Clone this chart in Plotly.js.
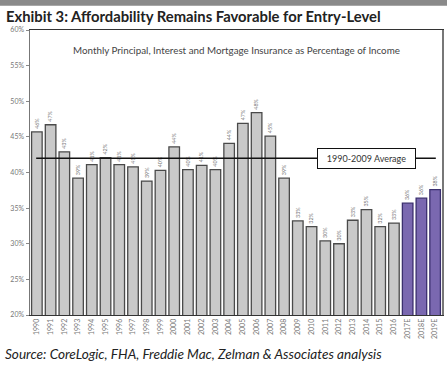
<!DOCTYPE html>
<html>
<head>
<meta charset="utf-8">
<script src="https://cdn.plot.ly/plotly-3.0.1.min.js"></script>
<style>html,body{margin:0;padding:0;background:#fff;}#chart{width:447px;height:367px;}</style>
</head>
<body>
<div id="chart"></div>
<script>
// Data
const years = ["1990","1991","1992","1993","1994","1995","1996","1997","1998","1999",
  "2000","2001","2002","2003","2004","2005","2006","2007","2008","2009",
  "2010","2011","2012","2013","2014","2015","2016","2017E","2018E","2019E"];
const pctOfIncome = [45.7,46.7,42.9,39.2,41.1,42.1,41.1,40.8,38.8,40.3,
  43.6,40.4,41.0,40.4,44.1,46.9,48.4,45.1,39.2,33.2,
  32.4,30.4,30.0,33.3,34.8,32.4,32.9,35.7,36.4,37.6];
const isEstimate = [false,false,false,false,false,false,false,false,false,false,
  false,false,false,false,false,false,false,false,false,false,
  false,false,false,false,false,false,false,true,true,true];
const avg1990to2009 = 42.0;
const avgLabel = "1990-2009 Average";
const yTicks = [20,25,30,35,40,45,50,55,60];

const fills = isEstimate.map(e => e ? "#7a68b0" : "#c9c9c9");
const outlines = isEstimate.map(e => e ? "#3b2f6e" : "#4a4a4a");

const trace = {
  type: "bar",
  x: years,
  y: pctOfIncome,
  marker: {color: fills, line: {color: outlines, width: 1.3}},
  text: pctOfIncome.map(v => Math.round(v) + "%"),
  textposition: "outside",
  textangle: -90,
  textfont: {family: "Lato, sans-serif", size: 7.5, color: "#777"},
  cliponaxis: false,
  hoverinfo: "none"
};

const layout = {
  width: 447, height: 367,
  margin: {l: 30, r: 5, t: 30, b: 52},
  paper_bgcolor: "#fff", plot_bgcolor: "#fff",
  showlegend: false,
  bargap: 0.23,
  font: {family: "Lato, sans-serif"},
  xaxis: {
    type: "category",
    range: [-0.5, years.length - 0.5],
    tickangle: -90,
    tickfont: {size: 7, color: "#777"},
    showline: true, linecolor: "#333", linewidth: 1, mirror: true,
    ticks: "", showgrid: false, zeroline: false
  },
  yaxis: {
    range: [20, 60],
    tickvals: yTicks,
    ticktext: yTicks.map(v => v + "%"),
    tickfont: {size: 7, color: "#777"},
    ticks: "outside", ticklen: 3, tickcolor: "#888",
    showline: true, linecolor: "#777", linewidth: 1.5, mirror: true,
    showgrid: false, zeroline: false
  },
  shapes: [
    {type: "rect", xref: "paper", yref: "paper", x0: -0.1, x1: 1.1, y0: 1.085, y1: 1.11,
     fillcolor: "#8a8a8a", line: {width: 0}},
    {type: "line", xref: "x", yref: "y", x0: -0.05, x1: 29.05,
     y0: avg1990to2009, y1: avg1990to2009, line: {color: "#111", width: 1.3}, layer: "above"}
  ],
  annotations: [
    {xref: "paper", yref: "paper", x: -0.063, y: 1.05, xanchor: "left", yanchor: "middle",
     text: "<b>Exhibit 3: Affordability Remains Favorable for Entry-Level</b>",
     showarrow: false, font: {size: 14.8, color: "#222", family: "Lato, sans-serif"}},
    {xref: "paper", yref: "paper", x: 0.5, y: 0.93, xanchor: "center", yanchor: "middle",
     text: "Monthly Principal, Interest and Mortgage Insurance as Percentage of Income",
     showarrow: false, font: {size: 9.8, color: "#444", family: "Lato, sans-serif"}},
    {xref: "x", yref: "y", x: 24, y: avg1990to2009, text: avgLabel, showarrow: false,
     bgcolor: "#fff", bordercolor: "#111", borderwidth: 1, width: 95, height: 17,
     font: {size: 9, color: "#333", family: "Lato, sans-serif"}},
    {xref: "paper", yref: "paper", x: -0.065, y: -0.138, xanchor: "left", yanchor: "middle",
     text: "<i>Source: CoreLogic, FHA, Freddie Mac, Zelman &amp; Associates analysis</i>",
     showarrow: false, font: {size: 13.6, color: "#222", family: "Lato, sans-serif"}}
  ]
};

Plotly.newPlot("chart", [trace], layout, {staticPlot: true, displayModeBar: false});
</script>
</body>
</html>
